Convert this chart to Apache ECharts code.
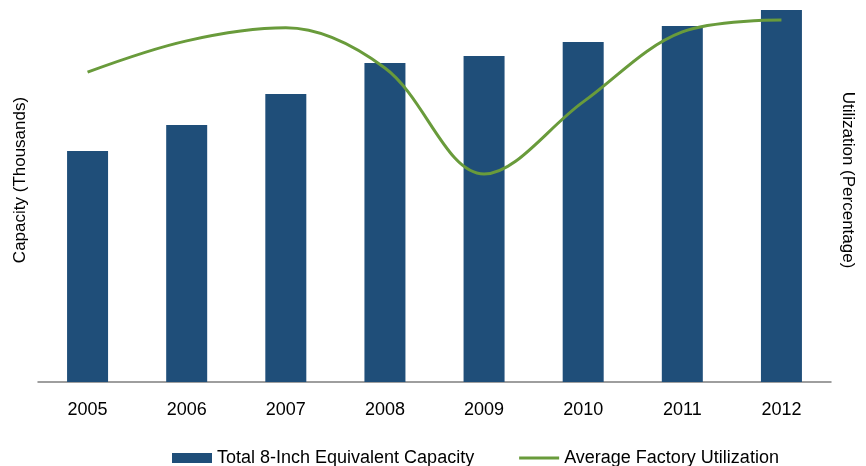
<!DOCTYPE html>
<html>
<head>
<meta charset="utf-8">
<script src="https://cdn.jsdelivr.net/npm/echarts@6/dist/echarts.min.js"></script>
<style>html,body{margin:0;padding:0;background:#fff}#c{width:866px;height:466px}</style>
</head>
<body>
<div id="c"></div>
<script>
const years = ['2005','2006','2007','2008','2009','2010','2011','2012'];
const capacity = [931, 1036, 1161, 1286, 1315, 1371, 1435, 1500];
const utilization = [83.3, 91.7, 95.2, 84.4, 55.9, 75.3, 94.1, 97.3];
const capacityName = 'Total 8-Inch Equivalent Capacity';
const utilizationName = 'Average Factory Utilization';
const leftTitle = 'Capacity (Thousands)';
const rightTitle = 'Utilization (Percentage)';

const font = 'Liberation Sans, Arial, sans-serif';
const lineIcon = 'path://M0,0h42v0.01h-42z M0,3.5h42v3h-42z M0,10h42v0.01h-42z';
const chart = echarts.init(document.getElementById('c'));
chart.setOption({
  animation: false,
  grid: {left: 38, right: 35, top: 10, bottom: 84},
  legend: {
    left: 172, top: 449, padding: 0, itemGap: 45,
    itemWidth: 40, itemHeight: 10,
    textStyle: {fontFamily: font, fontSize: 18, color: '#000'},
    data: [{name: capacityName, icon: 'rect'}, {name: utilizationName, icon: lineIcon}]
  },
  xAxis: {
    type: 'category', data: years,
    axisLine: {lineStyle: {color: '#7f7f7f', width: 1.5}},
    axisTick: {show: false},
    axisLabel: {fontFamily: font, fontSize: 18, color: '#000', margin: 19}
  },
  yAxis: [
    {type: 'value', min: 0, max: 1500, axisLabel: {show: false}, splitLine: {show: false}, axisLine: {show: false}, axisTick: {show: false}},
    {type: 'value', min: 0, max: 100, axisLabel: {show: false}, splitLine: {show: false}, axisLine: {show: false}, axisTick: {show: false}}
  ],
  graphic: [
    {type: 'text', x: 20, y: 180, rotation: Math.PI / 2,
     style: {text: leftTitle, font: '17px ' + font, fill: '#000', align: 'center', verticalAlign: 'middle'}},
    {type: 'text', x: 848, y: 180, rotation: -Math.PI / 2,
     style: {text: rightTitle, font: '17px ' + font, fill: '#000', align: 'center', verticalAlign: 'middle'}}
  ],
  series: [
    {name: capacityName, type: 'bar', data: capacity, barWidth: 41, itemStyle: {color: '#1f4e79'}},
    {name: utilizationName, type: 'line', yAxisIndex: 1, data: utilization, smooth: 0.35, symbol: 'none',
     lineStyle: {color: '#699b3b', width: 3}, itemStyle: {color: '#699b3b'}}
  ]
});
</script>
</body>
</html>
